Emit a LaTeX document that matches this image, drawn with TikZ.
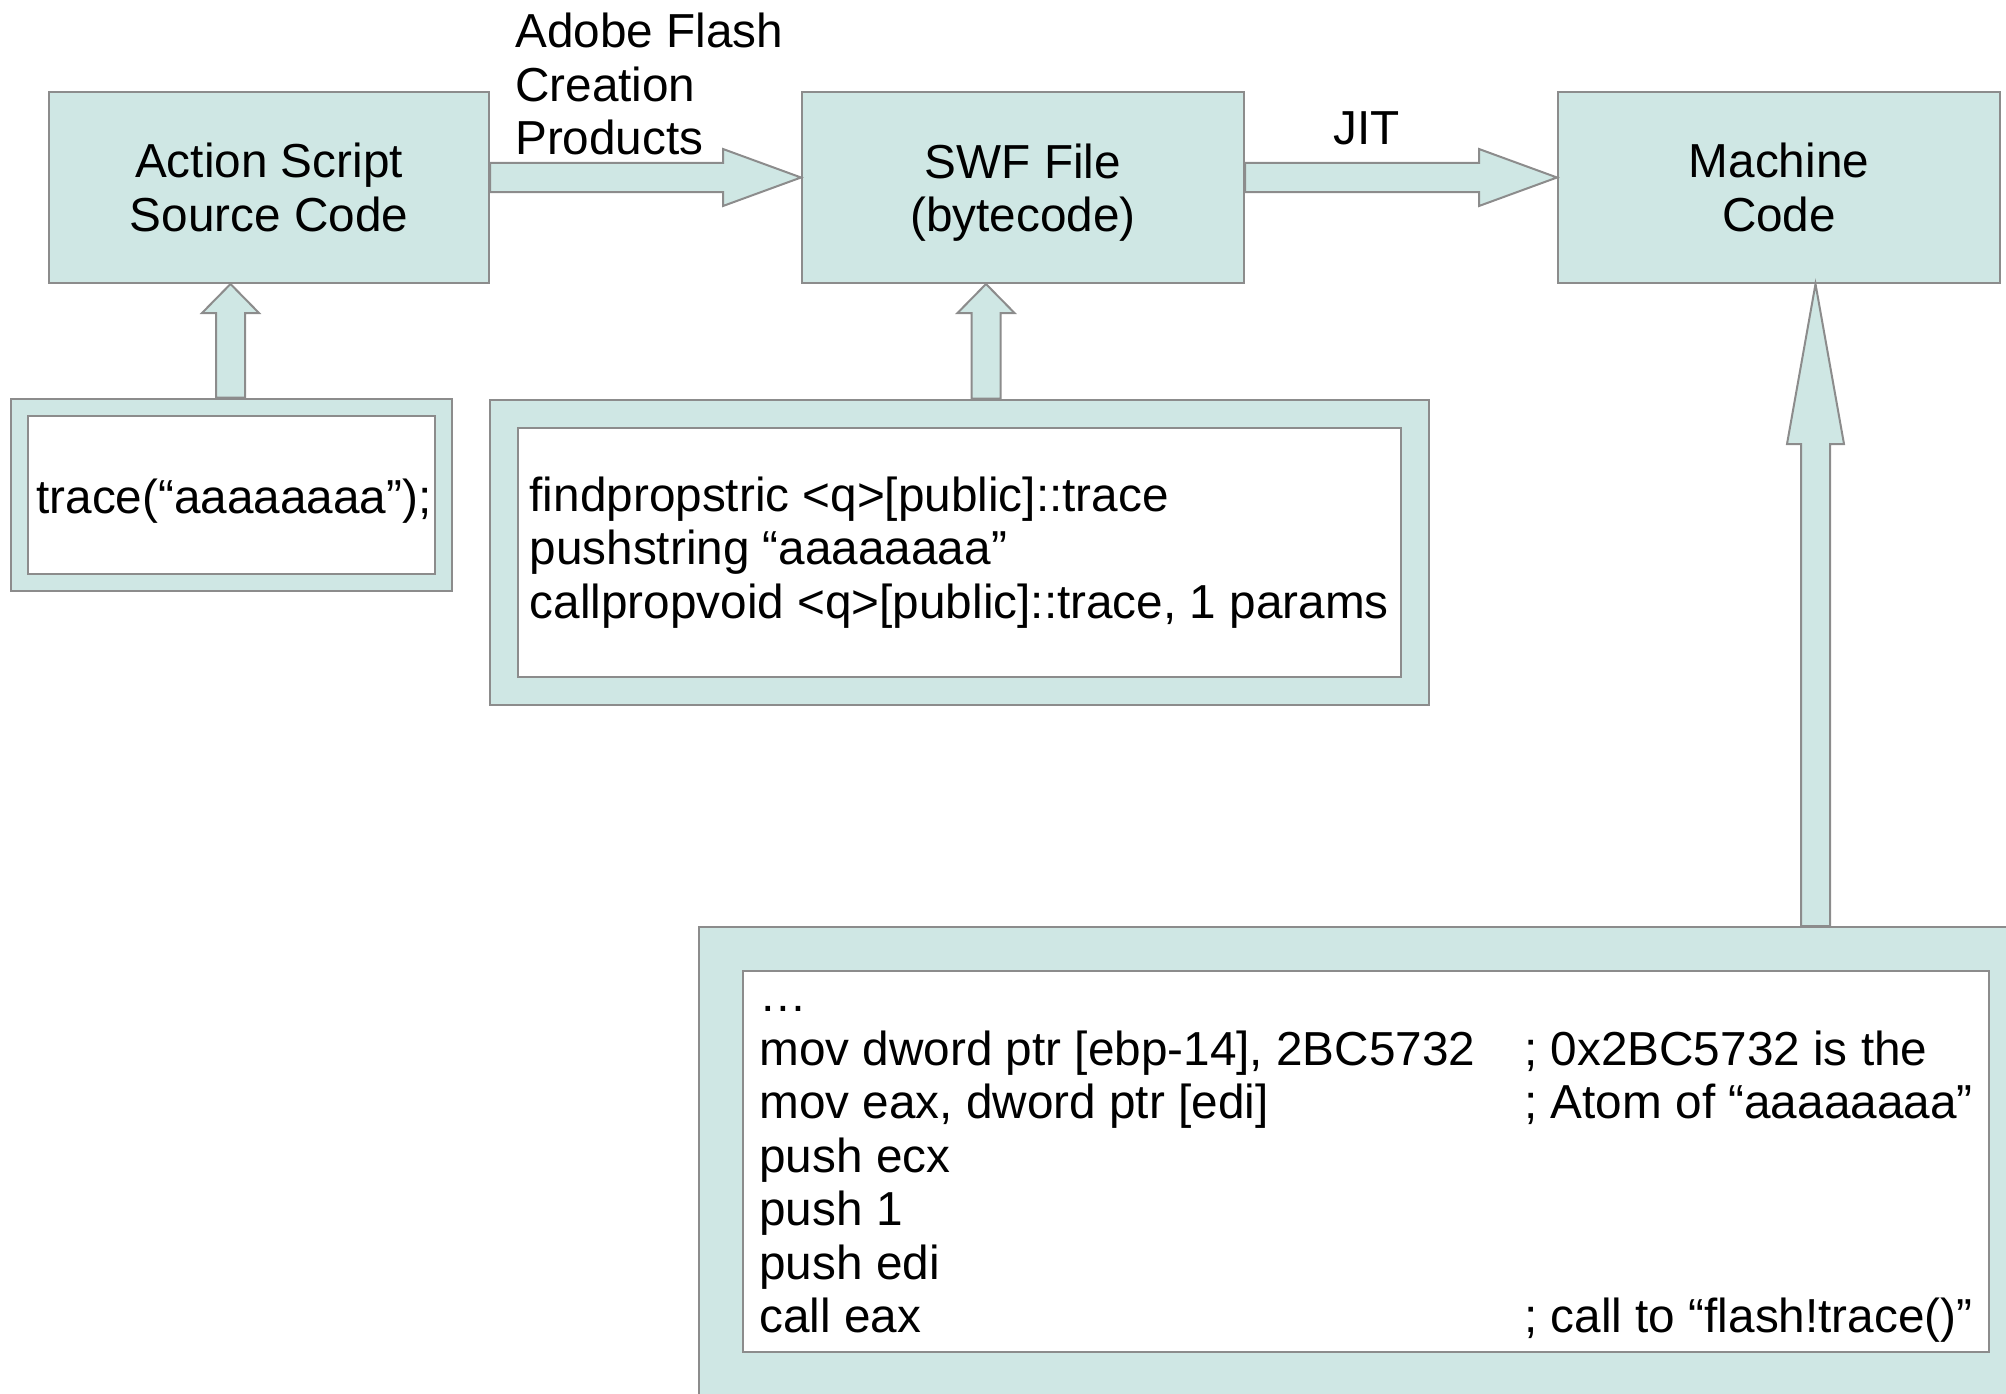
\documentclass[tikz,border=0pt]{standalone}
\usepackage{fontspec}
\setmainfont{Liberation Sans}
\usetikzlibrary{calc, positioning}

\definecolor{panel}{HTML}{CFE7E4}
\definecolor{edge}{HTML}{8C8C8C}

% block arrow from tail #2 to tip #3, head length #1
\newcommand{\blockarrow}[3][78pt]{%
  \coordinate (ba-t) at (#2);
  \coordinate (ba-p) at (#3);
  \coordinate (ba-h) at ($(ba-p)!#1!(ba-t)$);
  \draw[barrow] ($(ba-t)!14.5pt!90:(ba-p)$) -- ($(ba-h)!14.5pt!-90:(ba-t)$)
    -- ($(ba-h)!28.5pt!-90:(ba-t)$) -- (ba-p) -- ($(ba-h)!28.5pt!90:(ba-t)$)
    -- ($(ba-h)!14.5pt!90:(ba-t)$) -- ($(ba-t)!14.5pt!-90:(ba-p)$) -- cycle;}

\begin{document}
\begin{tikzpicture}[
    x=1pt, y=1pt,
    font=\fontsize{47.7}{53.5}\selectfont,
    stage/.style={draw=edge, fill=panel, line width=2pt,
                  minimum width=440pt, minimum height=191pt, align=center},
    codebox/.style={draw=edge, line width=2pt, fill=white, double=panel,
                    inner sep=0pt, align=left},
    note/.style={inner sep=0pt, align=left},
    barrow/.style={draw=edge, fill=panel, line width=2pt, line join=miter}
  ]
  \path[use as bounding box, clip] (0,0) rectangle (2006,-1394);

  % the three stages
  \node[stage] (src) at (269,-187.5) {Action Script\\Source Code};
  \node[stage, minimum width=442pt, text depth=0pt, right=311pt of src] (swf) {SWF File\\(bytecode)};
  \node[stage, minimum width=442pt, right=312pt of swf] (mach) {Machine\\Code};

  % what each stage looks like
  \node[codebox, double distance=15pt, outer sep=9.5pt,
        minimum width=424pt, minimum height=175pt,
        text width=400pt, align=right, text height=47pt, text depth=10pt] (trace) at (231.5,-494.5)
        {trace(“aaaaaaaa”);};
  \node[codebox, double distance=26pt, outer sep=15pt,
        minimum width=910.5pt, minimum height=277.5pt] (abc) at (959.25,-552.25)
        {findpropstric <q>[public]::trace\\
         pushstring “aaaaaaaa”\\
         callpropvoid <q>[public]::trace, 1 params};
  \node[codebox, double distance=42pt, outer sep=23pt,
        minimum width=1290pt, minimum height=425pt] (asm) at (1366,-1161.5)
        {\begin{tabular}{@{}p{765pt}@{}l@{}}
         … & \\
         mov dword ptr [ebp-14], 2BC5732 & ; 0x2BC5732 is the\\
         mov eax, dword ptr [edi] & ; Atom of “aaaaaaaa”\\
         push ecx & \\
         push 1 & \\
         push edi & \\
         call eax & ; call to “flash!trace()”
         \end{tabular}};

  % compile steps
  \coordinate (a1) at ([yshift=10pt]src.east);
  \coordinate (a2) at ([yshift=10pt]swf.east);
  \blockarrow{a1}{a1 -| swf.west}
  \blockarrow{a2}{a2 -| mach.west}
  \node[note, above right=22pt and 25pt of a1] (flash) {Adobe Flash\\Creation\\Products};
  \node[note, above right=32.5pt and 88pt of a2] (jit) {JIT};

  % samples feed the stages
  \coordinate (u1) at ([xshift=-1pt]trace.north);
  \coordinate (u2) at ([xshift=26.75pt]abc.north);
  \coordinate (u3) at ([xshift=449.5pt]asm.north);
  \blockarrow[29pt]{u1}{u1 |- src.south}
  \blockarrow[29pt]{u2}{u2 |- swf.south}
  \blockarrow[160pt]{u3}{u3 |- mach.south}
\end{tikzpicture}
\end{document}
